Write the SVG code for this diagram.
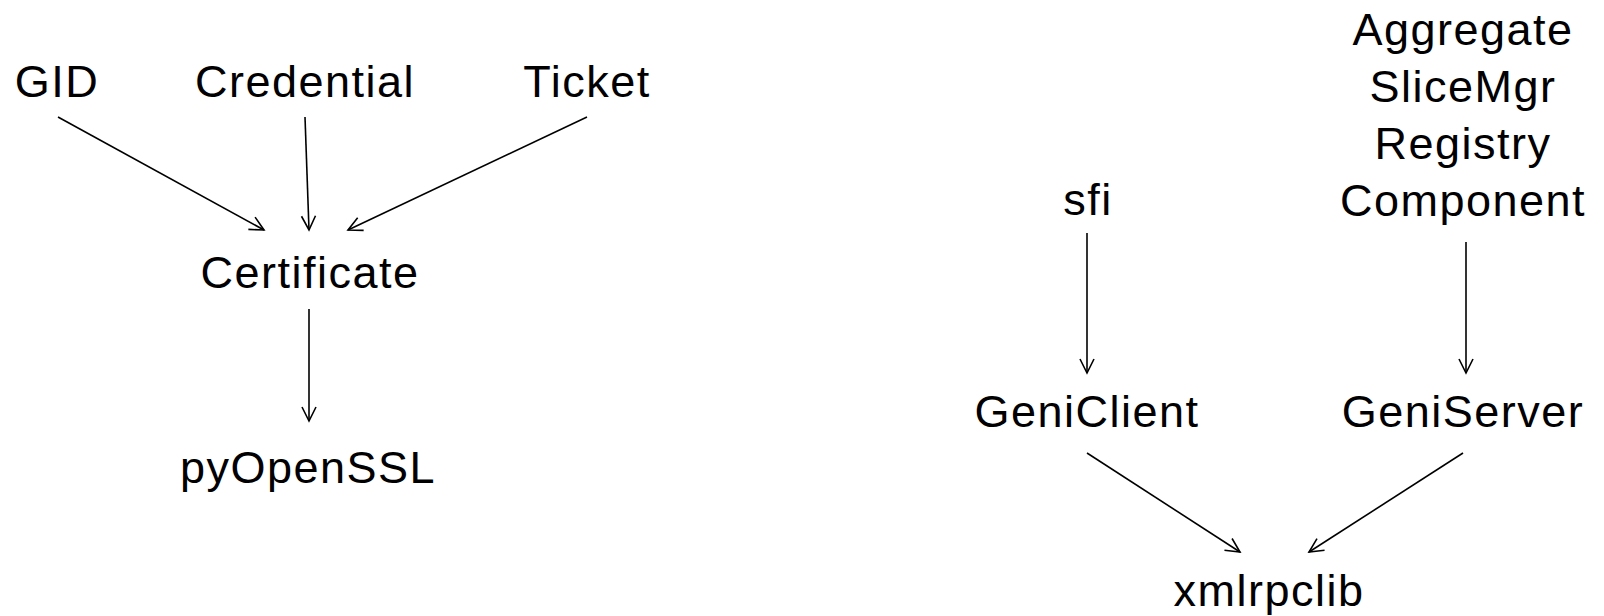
<svg xmlns="http://www.w3.org/2000/svg" width="1604" height="616" viewBox="0 0 1604 616">
<style>
  text { font-family: "Liberation Sans", Arial, sans-serif; font-size: 45px; fill: #000; text-anchor: middle; letter-spacing: 1.5px; }
  .edge { stroke: #000; stroke-width: 1.6; fill: none; marker-end: url(#arr); }
</style>
<defs>
  <marker id="arr" markerUnits="userSpaceOnUse" markerWidth="20" markerHeight="20" refX="15" refY="8" orient="auto">
    <path d="M1,1 L15,8 L1,15" fill="none" stroke="#000" stroke-width="1.6"/>
  </marker>
</defs>
<rect width="1604" height="616" fill="#fff"/>
<g id="GID"><text x="57" y="97">GID</text></g>
<g id="Credential"><text x="305" y="97">Credential</text></g>
<g id="Ticket"><text x="587" y="97">Ticket</text></g>
<g id="Certificate"><text x="310" y="288">Certificate</text></g>
<g id="pyOpenSSL"><text x="308" y="483">pyOpenSSL</text></g>
<g id="sfi"><text x="1088" y="215">sfi</text></g>
<g id="Servers">
  <text x="1463" y="45">Aggregate</text>
  <text x="1463" y="102">SliceMgr</text>
  <text x="1463" y="159">Registry</text>
  <text x="1463" y="216">Component</text>
</g>
<g id="GeniClient"><text x="1087" y="427">GeniClient</text></g>
<g id="GeniServer"><text x="1463" y="427">GeniServer</text></g>
<g id="xmlrpclib"><text x="1269" y="606">xmlrpclib</text></g>
<g id="connectors">
  <line class="edge" x1="58" y1="117" x2="264" y2="230"/>
  <line class="edge" x1="305" y1="117" x2="309" y2="230"/>
  <line class="edge" x1="587" y1="117" x2="348" y2="230"/>
  <line class="edge" x1="309" y1="309" x2="309" y2="421"/>
  <line class="edge" x1="1087" y1="233" x2="1087" y2="373"/>
  <line class="edge" x1="1466" y1="242" x2="1466" y2="373"/>
  <line class="edge" x1="1087" y1="453" x2="1240" y2="552"/>
  <line class="edge" x1="1463" y1="453" x2="1309" y2="552"/>
</g>
</svg>
